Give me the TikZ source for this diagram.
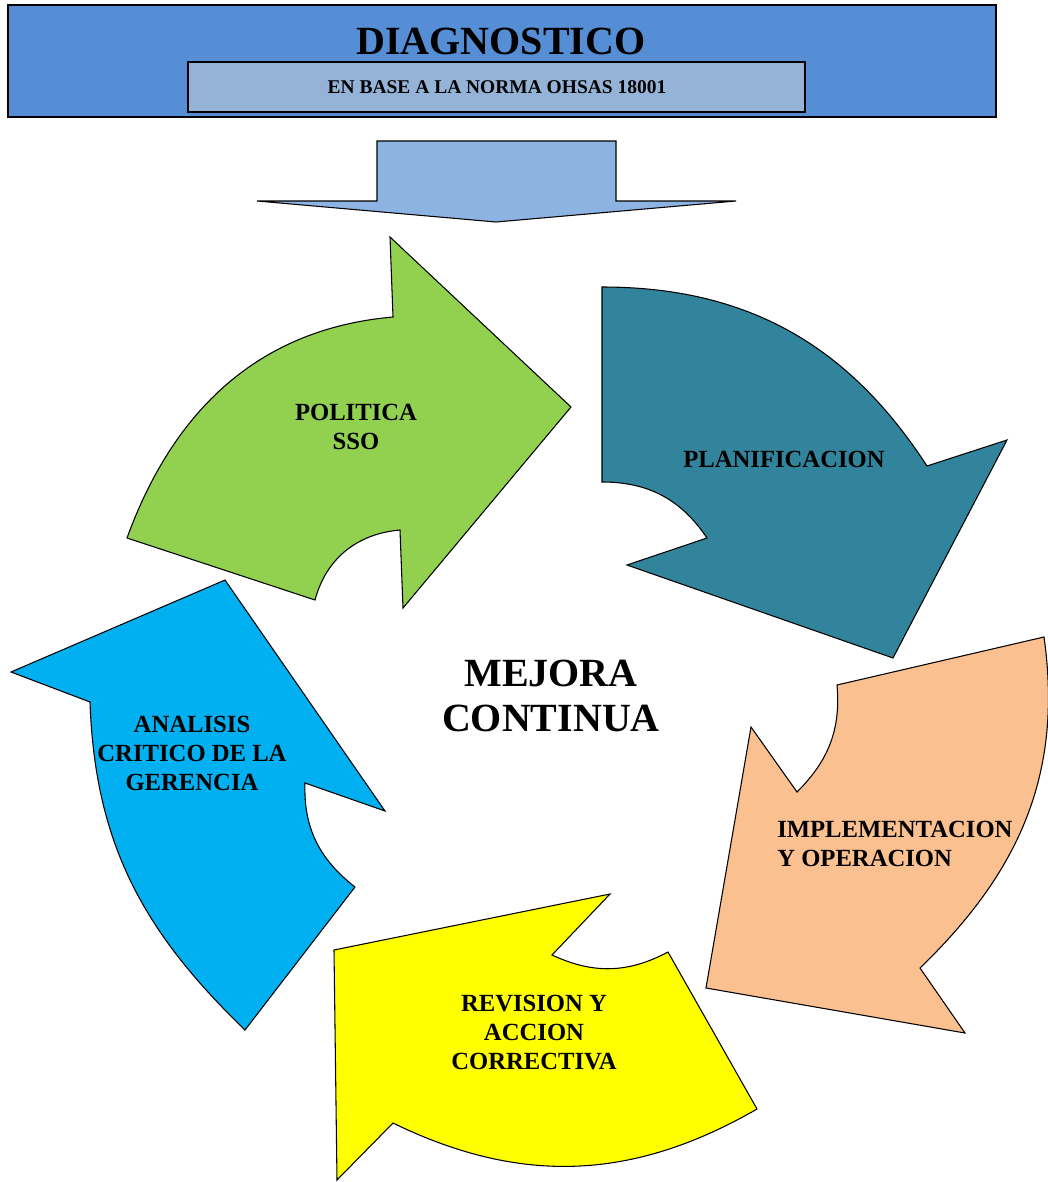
\documentclass[tikz,border=0pt]{standalone}
\usepackage{fontspec}
\setmainfont{Liberation Serif}
\definecolor{hdrblue}{HTML}{558ED5}
\definecolor{hdrinner}{HTML}{95B3D7}
\definecolor{downblue}{HTML}{8DB3E2}
\definecolor{cgreen}{HTML}{92D050}
\definecolor{cteal}{HTML}{31849B}
\definecolor{corange}{HTML}{FAC090}
\definecolor{cyellow}{HTML}{FFFF00}
\definecolor{cblue}{HTML}{00B0F0}
\begin{document}
\begin{tikzpicture}[x=0.75pt,y=0.75pt,
  shapeline/.style={draw=black,line width=0.8pt,line join=miter},
  lbl/.style={font=\fontsize{18.5}{21.75}\selectfont\bfseries,inner sep=0pt,align=center},
  bigtxt/.style={font=\fontsize{30}{34}\selectfont\bfseries,inner sep=0pt,align=center}]
\useasboundingbox (0,0) rectangle (1048,-1182);
% header
\draw[fill=hdrblue,draw=black,line width=1.2pt] (8,-5) rectangle (996,-117);
\draw[fill=hdrinner,draw=black,line width=1.2pt] (188,-62) rectangle (805,-112);
\node[bigtxt,anchor=base] (diag) at (501,-54) {DIAGNOSTICO};
\node[font=\fontsize{14.6}{17}\selectfont\bfseries,inner sep=0pt,anchor=base] (norma) at (497,-93) {EN BASE A LA NORMA OHSAS 18001};
% down arrow
\draw[shapeline,fill=downblue] (377,-141) -- (616,-141) -- (616,-201) -- (736,-201) -- (496,-222) -- (257,-201) -- (377,-201) -- cycle;
% green arrow
\draw[shapeline,fill=cgreen] (127,-538) to[out=70,in=185] (393,-317) -- (390,-237) -- (571,-407) -- (403,-608) -- (400,-530) to[out=185,in=75] (315,-600) -- cycle;
% teal arrow
\draw[shapeline,fill=cteal] (602,-287) to[out=0,in=123] (927,-466) -- (1007,-440) -- (893,-658) -- (627,-565) -- (707,-538) to[out=124,in=0] (602,-482) -- cycle;
% orange arrow
\draw[shapeline,fill=corange] (1044,-637) to[out=-82,in=44] (920,-968) -- (965,-1033) -- (706,-988) -- (751,-727) -- (797,-792) to[out=45,in=275] (837,-685) -- cycle;
% yellow arrow
\draw[shapeline,fill=cyellow] (757,-1109) to[out=210,in=-26] (393,-1123) -- (337,-1180) -- (334,-950) -- (610,-894) -- (552,-955) to[out=-25,in=208] (668,-952) -- cycle;
% blue arrow
\draw[shapeline,fill=cblue] (245,-1030) to[out=136,in=272] (90,-702) -- (11,-672) -- (225,-580) -- (385,-811) -- (305,-783) to[out=-92,in=142] (355,-887) -- cycle;
% labels
\node[lbl,anchor=north] (pol) at (356,-404) {POLITICA\\SSO};
\node[lbl,anchor=base] (plan) at (784,-467) {PLANIFICACION};
\node[lbl,anchor=north west,align=left] (impl) at (777,-821) {IMPLEMENTACION\\Y OPERACION};
\node[lbl,anchor=north] (rev) at (534,-995) {REVISION Y\\ACCION\\CORRECTIVA};
\node[lbl,anchor=north] (ana) at (192,-716) {ANALISIS\\CRITICO DE LA\\GERENCIA};
\node[bigtxt,anchor=north,font=\fontsize{30}{33.75}\selectfont\bfseries] (mej) at (551,-660) {MEJORA\\CONTINUA};
\end{tikzpicture}
\end{document}
